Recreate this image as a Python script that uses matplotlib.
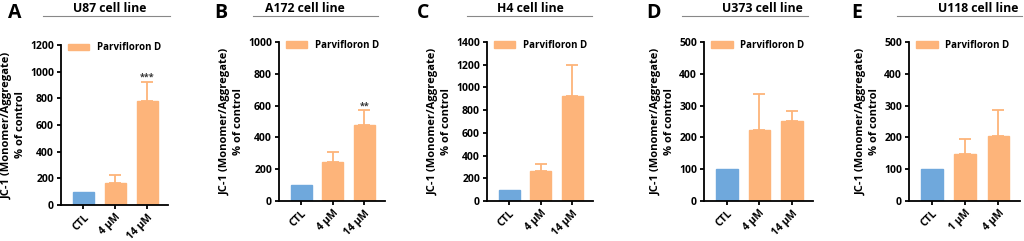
import matplotlib.pyplot as plt
from matplotlib.lines import Line2D

plt.rcParams['font.family'] = ['Open Sans', 'DejaVu Sans']
plt.rcParams['font.weight'] = 'bold'

blue = (111/255, 168/255, 220/255)
orange = (253/255, 180/255, 122/255)

# datos por panel
letters = ["A", "B", "C", "D", "E"]
titles = ["U87 cell line", "A172 cell line", "H4 cell line", "U373 cell line", "U118 cell line"]
labels_A = ["CTL", "4 µM", "14 µM"]
labels_B = ["CTL", "4 µM", "14 µM"]
labels_C = ["CTL", "4 µM", "14 µM"]
labels_D = ["CTL", "4 µM", "14 µM"]
labels_E = ["CTL", "1 µM", "4 µM"]
means_A = [100, 165, 780]
means_B = [100, 243, 478]
means_C = [100, 265, 925]
means_D = [100, 222, 252]
means_E = [100, 147, 205]
err_A = [0, 60, 145]
err_B = [0, 67, 92]
err_C = [0, 60, 270]
err_D = [0, 116, 31]
err_E = [0, 48, 80]
stars_A = ["", "", "***"]
stars_B = ["", "", "**"]
stars_C = ["", "", ""]
stars_D = ["", "", ""]
stars_E = ["", "", ""]
ymax = [1200, 1000, 1400, 500, 500]
ystep = [200, 200, 200, 100, 100]

labels = [labels_A, labels_B, labels_C, labels_D, labels_E]
means = [means_A, means_B, means_C, means_D, means_E]
errs = [err_A, err_B, err_C, err_D, err_E]
stars = [stars_A, stars_B, stars_C, stars_D, stars_E]

W, H = 1024, 241
fig = plt.figure(figsize=(W/100, H/100), dpi=100)

# posiciones en pixeles (izq, der, arriba, abajo)
boxes = [(61, 168, 45, 205), (279, 385, 42, 201), (487, 593, 42, 201),
         (704, 813, 42, 201), (909, 1020, 42, 201)]
title_x = [110, 305, 530, 762, 978]
line_x = [(43, 170), (253, 378), (467, 592), (682, 808), (897, 1022)]
letter_x = [15, 221, 423, 653, 857]

for i in range(5):
    l, r, t, b = boxes[i]
    ax = fig.add_axes([l/W, 1 - b/H, (r - l)/W, (b - t)/H])
    x = range(3)
    cols = [blue, orange, orange]
    ax.bar(x, means[i], width=0.66, color=cols, edgecolor=cols)
    ax.errorbar([1, 2], means[i][1:], yerr=[[0, 0], errs[i][1:]], fmt='none',
                ecolor=orange, elinewidth=1.3, capsize=4, capthick=1.3)
    for j in range(3):
        if stars[i][j]:
            ax.text(j, means[i][j] + errs[i][j], stars[i][j], ha='center', va='bottom',
                    fontsize=6.5, color='#333333')
    ax.set_xlim(-0.7, 2.65)
    ax.set_ylim(0, ymax[i])
    ax.set_yticks(range(0, ymax[i] + 1, ystep[i]))
    ax.set_xticks(list(x))
    ax.set_xticklabels(labels[i], rotation=45, ha='right', rotation_mode='anchor')
    ax.tick_params(labelsize=7.5, width=1.3, length=3, pad=2)
    for s in ['top', 'right']:
        ax.spines[s].set_visible(False)
    for s in ['left', 'bottom']:
        ax.spines[s].set_linewidth(1.3)
    ax.set_ylabel("JC-1 (Monomer/Aggregate)\n% of control", fontsize=8,
                  fontweight='bold', multialignment='center', labelpad=3)
    ax.legend([plt.Rectangle((0, 0), 1, 1, color=orange)], ["Parvifloron D"],
              loc='upper left', frameon=False, fontsize=7, handlelength=2.2,
              borderaxespad=0.0, bbox_to_anchor=(0.03, 1.04))

    fig.text(title_x[i]/W, 1 - 8/H, titles[i], ha='center', va='center', fontsize=8.8)
    fig.add_artist(Line2D([line_x[i][0]/W, line_x[i][1]/W], [1 - 16/H, 1 - 16/H],
                          color='#888888', lw=0.8))
    fig.text(letter_x[i]/W, 1 - 13/H, letters[i], ha='center', va='center',
             fontsize=14, fontweight='bold')

fig.savefig("out.png", dpi=100)
